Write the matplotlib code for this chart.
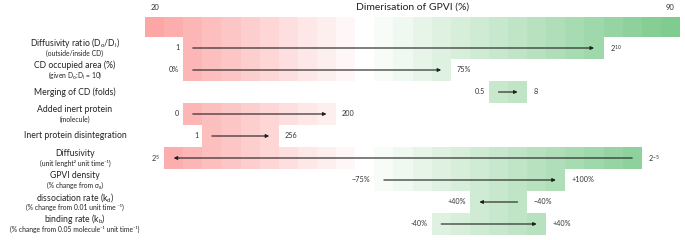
import numpy as np
import matplotlib.pyplot as plt
from matplotlib.colors import LinearSegmentedColormap, TwoSlopeNorm

plt.rcParams['font.family'] = ['Lato', 'DejaVu Sans']
plt.rcParams['mathtext.fontset'] = 'custom'
plt.rcParams['mathtext.rm'] = 'Lato'
plt.rcParams['mathtext.it'] = 'Lato'

# ---- data -------------------------------------------------------------
n_cols = 28          # dimerisation bins, 20 % ... 90 %
white_col = 11       # neutral bin
scale_lo, scale_hi = "20", "90"
title = "Dimerisation of GPVI (%)"

row_names = [
    r"Diffusivity ratio (D$_\mathregular{o}$/D$_\mathregular{i}$)",
    "CD occupied area (%)",
    "Merging of CD (folds)",
    "Added inert protein",
    "Inert protein disintegration",
    "Diffusivity",
    "GPVI density",
    r"dissociation rate (k$_\mathregular{d}$)",
    r"binding rate (k$_\mathregular{b}$)",
]
row_units = [
    "(outside/inside CD)",
    r"(given D$_\mathregular{o}$:D$_\mathregular{i}$ = 10)",
    "",
    "(molecule)",
    "",
    "(unit lenght\u00b2 unit time\u207b\u00b9)",
    "(% change from \u03c3\u2080)",
    "(% change from 0.01 unit time \u207b\u00b9)",
    "(% change from 0.05 molecule\u207b\u00b9 unit time\u207b\u00b9)",
]
col_start = [2, 2, 18, 2, 3, 1, 12, 17, 15]
col_stop = [24, 16, 20, 10, 7, 26, 22, 20, 21]
left_vals = ["1", "0%", "0.5", "0", "1", r"2$^\mathregular{5}$", "\u221275%", "+40%", "-40%"]
right_vals = [r"2$^\mathregular{10}$", "75%", "8", "200", "256", r"2$^\mathregular{-5}$",
              "+100%", "\u221240%", "+40%"]
arrow_dir = [1, 1, 1, 1, 1, -1, 1, -1, 1]

red_full = "#fca6a6"
green_full = "#80cb8f"

# ---- layout -------------------------------------------------------------
W, H = 685, 240
x0, x1 = 145, 680            # pixel extent of the grid
cw = (x1 - x0) / n_cols
band_top, band_bot = 17, 37
row_h = 22

fig = plt.figure(figsize=(W / 100, H / 100), dpi=100)
ax = fig.add_axes([0, 0, 1, 1])
ax.set_xlim(-x0 / cw, (W - x0) / cw)
ax.set_ylim(H, 0)
ax.axis("off")

n_rows = len(row_names)
y_edges = np.concatenate([[band_top], band_bot + row_h * np.arange(n_rows + 1)])
x_edges = np.arange(n_cols + 1)

dist = np.arange(n_cols) - white_col
grid = np.full((n_rows + 1, n_cols), np.nan)
grid[0, :] = dist
for r in range(n_rows):
    grid[r + 1, col_start[r]:col_stop[r]] = dist[col_start[r]:col_stop[r]]

cmap = LinearSegmentedColormap.from_list("rg", [red_full, "#ffffff", green_full])
norm = TwoSlopeNorm(vmin=dist.min(), vcenter=0, vmax=dist.max())
ax.pcolormesh(x_edges, y_edges, np.ma.masked_invalid(grid), cmap=cmap, norm=norm,
              shading="flat", edgecolors="none")

# top scale
ax.text(0.5, 7, scale_lo, ha="center", va="center", fontsize=5.5, color="#333333")
ax.text(n_cols - 0.5, 7, scale_hi, ha="center", va="center", fontsize=5.5, color="#333333")
ax.text(n_cols / 2, 7, title, ha="center", va="center", fontsize=7.5, color="#222222")

label_x = (75 - x0) / cw
gap = 4 / cw
for r in range(n_rows):
    yc = band_bot + row_h * (r + 0.5)
    if row_units[r]:
        ax.text(label_x, yc - 4.8, row_names[r], ha="center", va="center", fontsize=6.2, color="#222222")
        ax.text(label_x, yc + 5.2, row_units[r], ha="center", va="center", fontsize=4.9, color="#222222")
    else:
        ax.text(label_x, yc, row_names[r], ha="center", va="center", fontsize=6.2, color="#222222")

    s, e = col_start[r], col_stop[r]
    ax.text(s - gap, yc, left_vals[r], ha="right", va="center", fontsize=5.2, color="#333333")
    ax.text(e + gap * 1.5, yc, right_vals[r], ha="left", va="center", fontsize=5.2, color="#333333")

    a, b = s + 0.5, e - 0.5
    if arrow_dir[r] < 0:
        a, b = b, a
    ax.annotate("", xy=(b, yc), xytext=(a, yc),
                arrowprops=dict(arrowstyle="-|>", color="#1e1e1e", lw=0.8,
                                mutation_scale=5, shrinkA=0, shrinkB=0))

fig.savefig("out.png", dpi=100)
